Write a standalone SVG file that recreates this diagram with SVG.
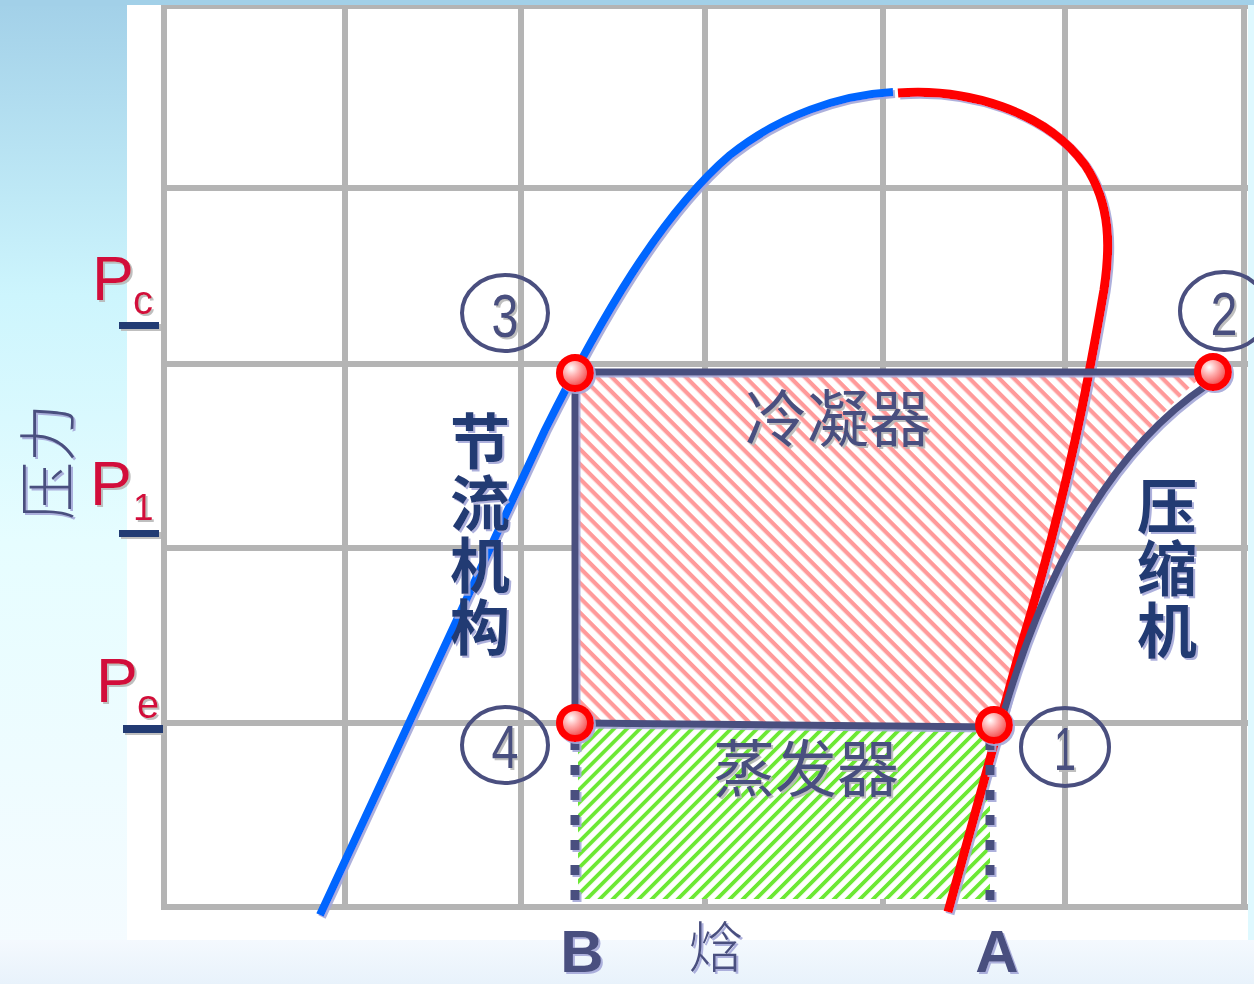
<svg xmlns="http://www.w3.org/2000/svg" width="1254" height="984" viewBox="0 0 1254 984">
<defs>
<linearGradient id="bgL" x1="0" y1="0" x2="0" y2="1">
<stop offset="0" stop-color="#a2d0e8"/>
<stop offset="0.3" stop-color="#cdf5fd"/>
<stop offset="0.55" stop-color="#e6fdff"/>
<stop offset="1" stop-color="#f6fbff"/>
</linearGradient>
<linearGradient id="bgB" x1="0" y1="0" x2="0" y2="1">
<stop offset="0" stop-color="#f4f9fe"/>
<stop offset="1" stop-color="#e8f2fb"/>
</linearGradient>
<radialGradient id="dotG" cx="0.38" cy="0.35" r="0.7">
<stop offset="0" stop-color="#ffffff"/>
<stop offset="0.35" stop-color="#ffb0b0"/>
<stop offset="1" stop-color="#f03030"/>
</radialGradient>
<pattern id="hatchR" width="10.5" height="10.5" patternUnits="userSpaceOnUse" patternTransform="rotate(45)">
<rect width="10.5" height="10.5" fill="#ffffff"/>
<rect width="10.5" height="4.2" fill="#ff9a9a"/>
</pattern>
<pattern id="hatchG" width="9.2" height="9.2" patternUnits="userSpaceOnUse" patternTransform="rotate(-45)">
<rect width="9.2" height="9.2" fill="#ffffff"/>
<rect width="9.2" height="3.8" fill="#6ce834"/>
</pattern>
<filter id="sh" filterUnits="userSpaceOnUse" x="0" y="0" width="1254" height="984">
<feDropShadow dx="2" dy="2" stdDeviation="0.6" flood-color="#a4a8d8" flood-opacity="0.9"/>
</filter>
<filter id="shg" filterUnits="userSpaceOnUse" x="0" y="0" width="1254" height="984">
<feDropShadow dx="2" dy="2" stdDeviation="0.6" flood-color="#b8b8b8" flood-opacity="0.9"/>
</filter>
<style>
.grid{stroke:#b4b4b4;stroke-width:6;fill:none}
.proc{stroke:#4a4f7f;stroke-width:7;fill:none;stroke-linecap:butt}
.dash{stroke:#4a4f7f;stroke-width:9;fill:none;stroke-dasharray:10 15}
.ring{fill:none;stroke:#4a4f7f;stroke-width:4}
.num{font-family:"Liberation Sans",Arial,sans-serif;font-size:62px;fill:#4a4f7f;text-anchor:middle}
.dot{fill:url(#dotG);stroke:#ff0000;stroke-width:7}
.plab{font-family:"Liberation Sans",Arial,sans-serif;fill:#d2103a}
.ul{fill:#243a73}
.vert{font-family:"Noto Sans CJK SC",sans-serif;font-weight:bold;font-size:60px;fill:#243a73;writing-mode:vertical-rl;letter-spacing:2px}
.cjk{font-family:"Noto Sans CJK SC",sans-serif;font-size:62px;fill:#4a4f7f;text-anchor:middle}
.ab{font-family:"Liberation Sans",Arial,sans-serif;font-weight:bold;font-size:60px;fill:#4a4f7f;text-anchor:middle}
</style>
</defs>

<!-- background -->
<rect width="1254" height="984" fill="url(#bgL)"/>
<rect x="0" y="0" width="1254" height="6" fill="#a2d0e8"/>
<rect x="127" y="5" width="1127" height="935" fill="#ffffff"/>
<rect x="0" y="940" width="1254" height="44" fill="url(#bgB)"/>
<rect x="1248" y="5" width="6" height="935" fill="#dff9ff"/>

<!-- grid -->
<g id="grid" class="grid">
<line x1="161" y1="7" x2="1248" y2="7" style="stroke-width:4"/>
<line x1="161" y1="188" x2="1248" y2="188"/>
<line x1="161" y1="364" x2="1248" y2="364"/>
<line x1="161" y1="548" x2="1248" y2="548"/>
<line x1="161" y1="723" x2="1248" y2="723"/>
<line x1="161" y1="907" x2="1248" y2="907"/>
<line x1="164" y1="5" x2="164" y2="910"/>
<line x1="345" y1="5" x2="345" y2="910"/>
<line x1="521" y1="5" x2="521" y2="910"/>
<line x1="705" y1="5" x2="705" y2="910"/>
<line x1="883" y1="5" x2="883" y2="910"/>
<line x1="1065" y1="5" x2="1065" y2="910"/>
<line x1="1244" y1="5" x2="1244" y2="910"/>
</g>

<!-- regions -->
<g id="condenser-area">
<path d="M575,372 L1207,372 C1140,430 1060,520 1000,724 L575,722 Z" fill="url(#hatchR)"/>
</g>
<g id="evaporator-area">
<rect x="578" y="727" width="412" height="172" fill="url(#hatchG)"/>
</g>

<!-- connectors -->
<g id="connectors">
<path d="M320,915 L545,430 C600,320 660,215 730,155 C780,115 840,95 893,92" fill="none" stroke="#0066ff" stroke-width="8" filter="url(#sh)"/>
<path d="M898,93 C965,88 1045,110 1085,165 C1112,205 1110,250 1104,290 C1095,340 1075,470 1020,650 L948,912" fill="none" stroke="#ff0000" stroke-width="9" filter="url(#sh)"/>
<path class="proc" d="M575,372 L1207,372" filter="url(#sh)"/>
<path class="proc" d="M1207,385 C1140,430 1060,520 1003,715" filter="url(#sh)"/>
<path class="proc" d="M575,372 L575,722" filter="url(#sh)"/>
<path class="proc" d="M575,723 L995,727" filter="url(#sh)"/>
<path class="dash" d="M575,740 L575,912" filter="url(#sh)"/>
<path class="dash" d="M990,740 L990,912" filter="url(#sh)"/>
</g>

<!-- nodes -->
<g id="node-3">
<circle class="dot" cx="575" cy="373" r="15.5" filter="url(#sh)"/>
<ellipse class="ring" cx="505" cy="313" rx="43" ry="38"/>
<text class="num" x="505" y="337" textLength="27" lengthAdjust="spacingAndGlyphs" filter="url(#shg)">3</text>
</g>
<g id="node-2">
<circle class="dot" cx="1213" cy="372" r="15.5" filter="url(#sh)"/>
<ellipse class="ring" cx="1224" cy="311" rx="44" ry="39"/>
<text class="num" x="1224" y="335" textLength="27" lengthAdjust="spacingAndGlyphs" filter="url(#shg)">2</text>
</g>
<g id="node-1">
<circle class="dot" cx="994" cy="725" r="15.5" filter="url(#sh)"/>
<ellipse class="ring" cx="1065" cy="747" rx="44" ry="39"/>
<text class="num" x="1065" y="770" textLength="22" lengthAdjust="spacingAndGlyphs" filter="url(#shg)">1</text>
</g>
<g id="node-4">
<circle class="dot" cx="575" cy="723" r="15.5" filter="url(#sh)"/>
<ellipse class="ring" cx="505" cy="745" rx="43" ry="38"/>
<text class="num" x="505" y="768" textLength="27" lengthAdjust="spacingAndGlyphs" filter="url(#shg)">4</text>
</g>

<!-- pressure labels -->
<g id="label-pc" filter="url(#shg)">
<text class="plab" x="92" y="300" font-size="63">P</text>
<text class="plab" x="133" y="314" font-size="40">c</text>
<rect class="ul" x="119" y="322" width="40" height="7"/>
</g>
<g id="label-p1" filter="url(#shg)">
<text class="plab" x="90" y="505" font-size="63">P</text>
<text class="plab" x="133" y="520" font-size="37">1</text>
<rect class="ul" x="119" y="530" width="40" height="7"/>
</g>
<g id="label-pe" filter="url(#shg)">
<text class="plab" x="96" y="702" font-size="63">P</text>
<text class="plab" x="137" y="718" font-size="40">e</text>
<rect class="ul" x="123" y="725" width="40" height="8"/>
</g>

<!-- axis labels -->
<g id="axis-y" filter="url(#sh)">
<text class="cjk" transform="translate(69,462) rotate(-90)" x="0" y="0" style="font-size:58px;font-weight:300">压力</text>
</g>
<g id="axis-x">
<text class="ab" x="582" y="972" filter="url(#sh)">B</text>
<text class="cjk" x="716" y="967" style="font-size:55px;font-weight:300" filter="url(#sh)">焓</text>
<text class="ab" x="997" y="972" filter="url(#sh)">A</text>
</g>

<!-- component labels -->
<g id="label-throttle" filter="url(#sh)">
<text class="vert" x="480" y="411">节流机构</text>
</g>
<g id="label-compressor" filter="url(#sh)">
<text class="vert" x="1167" y="476">压缩机</text>
</g>
<g id="label-condenser" filter="url(#shg)">
<text class="cjk" x="838" y="442">冷凝器</text>
</g>
<g id="label-evaporator" filter="url(#shg)">
<text class="cjk" x="806" y="792">蒸发器</text>
</g>
</svg>
